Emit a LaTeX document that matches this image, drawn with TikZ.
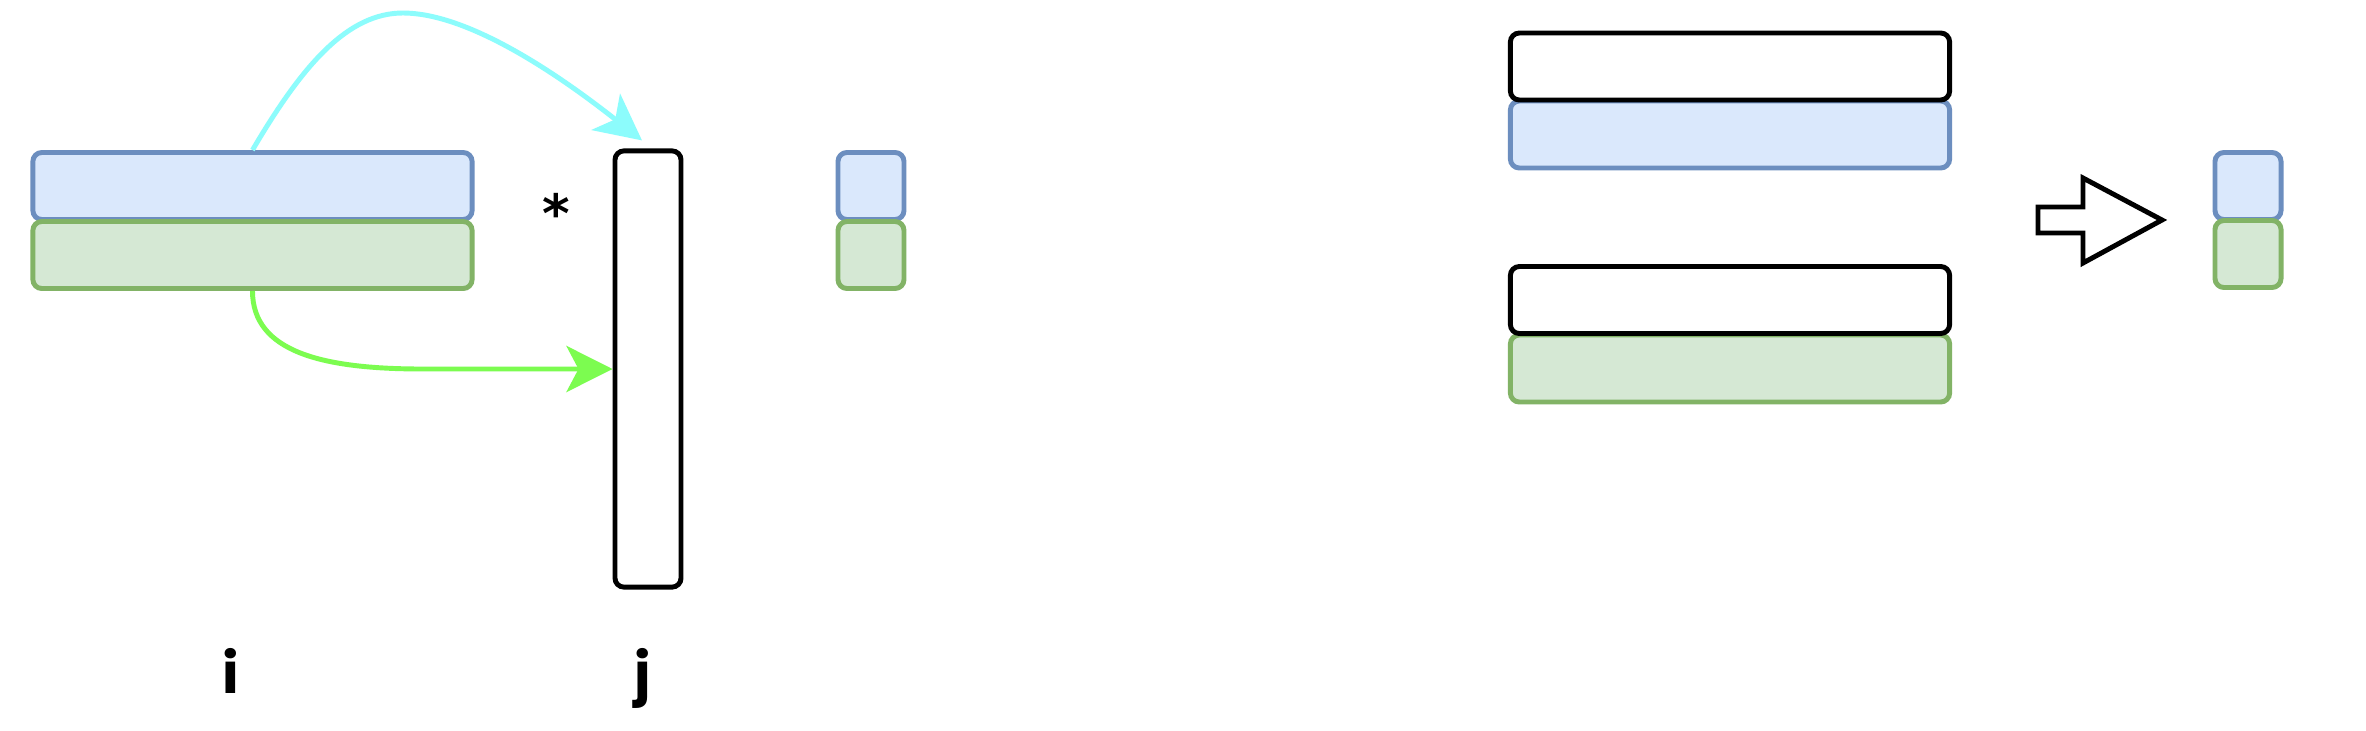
\documentclass[tikz,border=0pt]{standalone}
\usepackage{fontspec}
\setmainfont{DejaVu Sans}
\newfontfamily\lblfont{Poppins}
\usetikzlibrary{arrows.meta,calc}
\definecolor{bluefill}{HTML}{DAE8FC}
\definecolor{bluedraw}{HTML}{6C8EBF}
\definecolor{greenfill}{HTML}{D5E8D4}
\definecolor{greendraw}{HTML}{82B366}
\definecolor{cyanarrow}{HTML}{8CFCFC}
\definecolor{greenarrow}{HTML}{7CFC50}
\begin{document}
\begin{tikzpicture}[x=0.01cm,y=-0.01cm,
 cell/.style={rectangle, rounded corners=0.09cm, line width=1.4pt, inner sep=0pt},
 bluecell/.style={cell, fill=bluefill, draw=bluedraw},
 greencell/.style={cell, fill=greenfill, draw=greendraw},
 blackcell/.style={cell, fill=white, draw=black},
 row/.style={minimum width=4.39cm, minimum height=0.67cm},
 col/.style={minimum width=0.66cm, minimum height=4.36cm},
 sq/.style={minimum width=0.66cm, minimum height=0.67cm},
 flow/.style={line width=1.4pt, -{Stealth[length=0.46cm,width=0.46cm,inset=0.12cm]}},
 lbl/.style={font=\lblfont\bfseries\fontsize{16}{20}\selectfont, inner sep=0pt, anchor=base}
]
\fill[white] (0,0) rectangle (2366,730);
\useasboundingbox (0,0) rectangle (2366,730);

% left part
\node[bluecell,row] (lb) at (252.5,186) {};
\node[greencell,row] (lg) at (252.5,255) {};
\node[blackcell,col] (vj) at (648,369) {};
\node[font=\bfseries\fontsize{15}{18}\selectfont, inner sep=0pt] (star) at (556,213) {*};
\node[bluecell,sq] (sb) at (871,186) {};
\node[greencell,sq] (sg) at (871,255) {};
\node[lbl] (li) at (231,693) {i};
\node[lbl] (lj) at (643,693) {j};

% connectors
\coordinate (cend) at ($(vj.north)+(-6,-8)$);
\draw[flow, cyanarrow] (lb.north) .. controls (303,64) and (348,13) .. (403,13)
      .. controls (460,13) and (540,60) .. (cend);
\draw[flow, greenarrow] (lg.south) .. controls ($(lg.south)+(0,61)$) and ($(vj.west)+(-290,0)$) .. ($(vj.west)+(-190,0)$) -- (vj.west);

% right part
\node[bluecell,row] (rb) at (1730,134.5) {};
\node[blackcell,row] (rt) at (1730,66.5) {};
\node[greencell,row] (rg) at (1730,368.5) {};
\node[blackcell,row] (rm) at (1730,300) {};

% block arrow
\draw[line width=1.4pt, fill=white] (2038,207) -- (2083,207) -- (2083,178) -- (2162,220)
      -- (2083,263) -- (2083,233) -- (2038,233) -- cycle;

\node[bluecell,sq] (fb) at (2248,186) {};
\node[greencell,sq] (fg) at (2248,254) {};
\end{tikzpicture}
\end{document}
